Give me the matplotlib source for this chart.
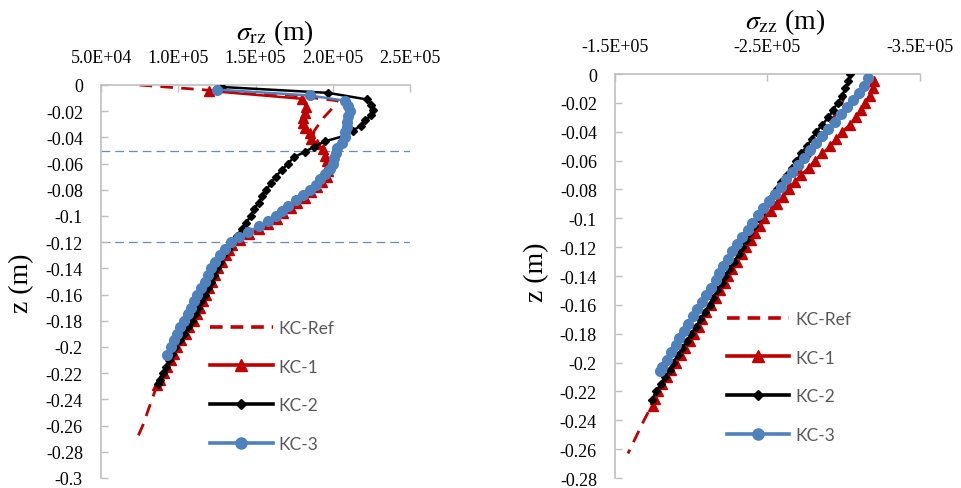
import matplotlib
matplotlib.use("Agg")
import matplotlib.pyplot as plt
from matplotlib.lines import Line2D

plt.rcParams['mathtext.fontset'] = 'stix'

SCALE = 1e5

# ---------------- Left panel: sigma_rz ----------------
z_ref_l = [0, -0.004, -0.008, -0.012, -0.016, -0.020, -0.025, -0.030, -0.035, -0.040,
           -0.045, -0.050, -0.055, -0.060, -0.070, -0.080, -0.090, -0.100, -0.110, -0.120,
           -0.130, -0.140, -0.150, -0.160, -0.170, -0.180, -0.190, -0.200, -0.210, -0.220,
           -0.230, -0.240, -0.250, -0.260, -0.268]
rz_ref = [0.75, 1.20, 1.75, 2.03, 2.01, 1.98, 1.94, 1.91, 1.88, 1.87,
          1.90, 1.94, 1.96, 1.97, 1.95, 1.88, 1.79, 1.67, 1.52, 1.37,
          1.31, 1.26, 1.22, 1.18, 1.14, 1.10, 1.05, 1.00, 0.95, 0.91,
          0.86, 0.83, 0.80, 0.77, 0.74]

z_kc1_l = [-0.0045, -0.0105, -0.017, -0.021, -0.025, -0.029, -0.033, -0.037, -0.041, -0.045,
           -0.049, -0.054, -0.058, -0.062, -0.066, -0.070, -0.074, -0.078, -0.082, -0.086,
           -0.090, -0.094, -0.098, -0.102, -0.106, -0.110, -0.114, -0.118, -0.122, -0.126,
           -0.130, -0.135, -0.140, -0.145, -0.150, -0.155, -0.160, -0.165, -0.170, -0.175,
           -0.180, -0.185, -0.190, -0.195, -0.200, -0.205, -0.210, -0.215, -0.220, -0.225,
           -0.229]
rz_kc1 = [1.20, 1.80, 1.83, 1.82, 1.81, 1.81, 1.82, 1.85, 1.86, 1.90,
          1.94, 1.95, 1.96, 1.97, 1.97, 1.96, 1.93, 1.90, 1.86, 1.82,
          1.77, 1.73, 1.68, 1.64, 1.58, 1.52, 1.46, 1.40, 1.35, 1.33,
          1.31, 1.28, 1.26, 1.24, 1.22, 1.20, 1.18, 1.16, 1.14, 1.12,
          1.10, 1.07, 1.05, 1.02, 0.99, 0.97, 0.95, 0.93, 0.91, 0.88,
          0.86]

z_kc2_l = [-0.0015, -0.006, -0.011, -0.015, -0.019, -0.023, -0.027, -0.031, -0.035, -0.039,
           -0.043, -0.047, -0.051, -0.055, -0.060, -0.065, -0.070, -0.075, -0.080, -0.085,
           -0.090, -0.095, -0.100, -0.105, -0.110, -0.115, -0.120, -0.125, -0.130, -0.135,
           -0.140, -0.145, -0.150, -0.155, -0.160, -0.165, -0.170, -0.175, -0.180, -0.185,
           -0.190, -0.195, -0.200, -0.205, -0.210, -0.215, -0.220, -0.225, -0.228]
rz_kc2 = [1.28, 1.97, 2.22, 2.25, 2.26, 2.25, 2.21, 2.18, 2.13, 2.07,
          1.95, 1.88, 1.82, 1.75, 1.71, 1.67, 1.63, 1.60, 1.57, 1.54,
          1.52, 1.49, 1.47, 1.44, 1.41, 1.38, 1.35, 1.32, 1.29, 1.27,
          1.25, 1.23, 1.21, 1.19, 1.17, 1.15, 1.13, 1.11, 1.09, 1.06,
          1.04, 1.01, 0.98, 0.96, 0.94, 0.92, 0.90, 0.88, 0.87]

z_kc3_l = [-0.0035, -0.008, -0.012, -0.016, -0.020, -0.024, -0.028, -0.032, -0.036, -0.040,
           -0.044, -0.048, -0.052, -0.056, -0.060, -0.064, -0.068, -0.072, -0.076, -0.080,
           -0.084, -0.088, -0.092, -0.096, -0.100, -0.104, -0.108, -0.112, -0.116, -0.120,
           -0.125, -0.130, -0.135, -0.140, -0.145, -0.150, -0.155, -0.160, -0.165, -0.170,
           -0.175, -0.180, -0.185, -0.190, -0.195, -0.200, -0.206]
rz_kc3 = [1.25, 1.85, 2.08, 2.10, 2.11, 2.10, 2.09, 2.09, 2.08, 2.08,
          2.06, 2.03, 2.02, 2.01, 2.00, 1.98, 1.95, 1.92, 1.89, 1.85,
          1.81, 1.76, 1.71, 1.67, 1.63, 1.58, 1.52, 1.45, 1.39, 1.34,
          1.30, 1.27, 1.24, 1.21, 1.19, 1.17, 1.15, 1.12, 1.10, 1.08,
          1.06, 1.04, 1.01, 0.99, 0.97, 0.95, 0.93]

layer_depths = [-0.05, -0.12]

# ---------------- Right panel: sigma_zz ----------------
z_ref_r = [0, -0.02, -0.04, -0.06, -0.08, -0.10, -0.12, -0.14, -0.16, -0.18,
           -0.20, -0.22, -0.24, -0.263]
zz_ref = [-3.05, -2.99, -2.88, -2.76, -2.62, -2.48, -2.36, -2.24, -2.13, -2.02,
          -1.90, -1.79, -1.69, -1.585]

z_kc1_r = [-0.005, -0.010, -0.015, -0.020, -0.025, -0.030, -0.035, -0.040, -0.045, -0.050,
           -0.055, -0.060, -0.065, -0.070, -0.075, -0.080, -0.085, -0.090, -0.095, -0.100,
           -0.105, -0.110, -0.115, -0.120, -0.125, -0.130, -0.135, -0.140, -0.145, -0.150,
           -0.155, -0.160, -0.165, -0.170, -0.175, -0.180, -0.185, -0.190, -0.195, -0.200,
           -0.205, -0.210, -0.215, -0.220, -0.225, -0.230]
zz_kc1 = [-3.20, -3.19, -3.17, -3.14, -3.11, -3.08, -3.04, -2.99, -2.95, -2.91,
          -2.86, -2.81, -2.77, -2.72, -2.68, -2.64, -2.60, -2.56, -2.52, -2.48,
          -2.45, -2.42, -2.39, -2.36, -2.33, -2.30, -2.27, -2.24, -2.22, -2.19,
          -2.16, -2.13, -2.10, -2.07, -2.05, -2.02, -1.99, -1.96, -1.93, -1.90,
          -1.87, -1.84, -1.81, -1.78, -1.76, -1.75]

z_kc2_r = [0, -0.005, -0.010, -0.015, -0.020, -0.025, -0.030, -0.035, -0.040, -0.045,
           -0.050, -0.055, -0.060, -0.065, -0.070, -0.075, -0.080, -0.085, -0.090, -0.095,
           -0.100, -0.105, -0.110, -0.115, -0.120, -0.125, -0.130, -0.135, -0.140, -0.145,
           -0.150, -0.155, -0.160, -0.165, -0.170, -0.175, -0.180, -0.185, -0.190, -0.195,
           -0.200, -0.205, -0.210, -0.215, -0.220, -0.226]
zz_kc2 = [-3.04, -3.03, -3.01, -2.99, -2.96, -2.93, -2.90, -2.86, -2.82, -2.79,
          -2.76, -2.72, -2.69, -2.66, -2.63, -2.59, -2.56, -2.53, -2.50, -2.47,
          -2.44, -2.41, -2.38, -2.36, -2.33, -2.31, -2.28, -2.25, -2.22, -2.20,
          -2.17, -2.14, -2.12, -2.09, -2.06, -2.03, -2.00, -1.97, -1.94, -1.91,
          -1.88, -1.86, -1.83, -1.80, -1.77, -1.74]

z_kc3_r = [-0.003, -0.008, -0.013, -0.018, -0.023, -0.028, -0.033, -0.038, -0.043, -0.048,
           -0.053, -0.058, -0.063, -0.068, -0.073, -0.078, -0.083, -0.088, -0.093, -0.098,
           -0.103, -0.108, -0.113, -0.118, -0.123, -0.128, -0.133, -0.138, -0.143, -0.148,
           -0.153, -0.158, -0.163, -0.168, -0.173, -0.178, -0.183, -0.188, -0.193, -0.198,
           -0.203, -0.206]
zz_kc3 = [-3.16, -3.13, -3.10, -3.06, -3.02, -2.98, -2.94, -2.90, -2.86, -2.82,
          -2.78, -2.74, -2.70, -2.66, -2.62, -2.59, -2.55, -2.51, -2.47, -2.44,
          -2.40, -2.37, -2.33, -2.30, -2.27, -2.24, -2.21, -2.18, -2.16, -2.13,
          -2.10, -2.07, -2.04, -2.01, -1.98, -1.95, -1.92, -1.90, -1.87, -1.84,
          -1.81, -1.795]

series_names = ["KC-Ref", "KC-1", "KC-2", "KC-3"]
x_ticks_l = [5.0e4, 1.0e5, 1.5e5, 2.0e5, 2.5e5]
x_ticks_r = [-1.5e5, -2.5e5, -3.5e5]

RED = "#C00000"
BLACK = "#000000"
BLUE = "#4F81BD"
GRAY = "#BFBFBF"
SERIF = "Liberation Serif"
LEGFONT = "Lato"

W, H = 962, 489
fig = plt.figure(figsize=(W / 100, H / 100), dpi=100)
ax1 = fig.add_axes([101 / W, 1 - 479 / H, (410 - 101) / W, (479 - 86) / H])
ax2 = fig.add_axes([615 / W, 1 - 479 / H, (920 - 615) / W, (479 - 75) / H])


def draw(ax, zr, vr, z1, v1, z2, v2, z3, v3):
    ax.plot([v * SCALE for v in vr], zr, color=RED, lw=2.0, dashes=(4.5, 3), zorder=2)
    ax.plot([v * SCALE for v in v1], z1, color=RED, lw=1.8, marker='^', ms=7.0, zorder=3)
    ax.plot([v * SCALE for v in v2], z2, color=BLACK, lw=1.8, marker='D', ms=4.5, zorder=4)
    ax.plot([v * SCALE for v in v3], z3, color=BLUE, lw=1.8, marker='o', ms=7.0, zorder=5)


draw(ax1, z_ref_l, rz_ref, z_kc1_l, rz_kc1, z_kc2_l, rz_kc2, z_kc3_l, rz_kc3)
draw(ax2, z_ref_r, zz_ref, z_kc1_r, zz_kc1, z_kc2_r, zz_kc2, z_kc3_r, zz_kc3)

for d in layer_depths:
    ax1.axhline(d, color="#6A8CB5", lw=0.9, dashes=(7, 4), zorder=1)

ax1.set_xlim(5.0e4, 2.5e5)
ax1.set_ylim(-0.3, 0)
ax2.set_xlim(-1.5e5, -3.5e5)
ax2.set_ylim(-0.28, 0)

ax1.set_xticks(x_ticks_l)
ax2.set_xticks(x_ticks_r)
ax1.set_yticks([-0.3 + 0.02 * i for i in range(16)])
ax2.set_yticks([-0.28 + 0.02 * i for i in range(15)])


def yfmt(v):
    v = round(v, 2)
    if abs(v) < 1e-9:
        return "0"
    return f"{v:g}"


for ax in (ax1, ax2):
    ax.set_xticklabels([f"{t:.1E}" for t in ax.get_xticks()])
    ax.set_yticklabels([yfmt(t) for t in ax.get_yticks()])
    ax.xaxis.tick_top()
    for s in ("right", "bottom"):
        ax.spines[s].set_visible(False)
    for s in ("left", "top"):
        ax.spines[s].set_color(GRAY)
        ax.spines[s].set_linewidth(1.2)
    ax.tick_params(axis='x', direction='in', length=5, width=1, color=GRAY, pad=14,
                   labelsize=13, labelfontfamily=SERIF)
    ax.tick_params(axis='y', direction='in', length=5, width=1, color=GRAY, pad=13,
                   labelsize=13, labelfontfamily=SERIF)
    ax.set_facecolor("none")

fig.text(275 / W, 1 - 33 / H, r"$\sigma_{\mathrm{rz}}$ (m)", ha='center', va='center',
         fontsize=20, family=SERIF)
fig.text(785 / W, 1 - 22 / H, r"$\sigma_{\mathrm{zz}}$ (m)", ha='center', va='center',
         fontsize=20, family=SERIF)
fig.text(22 / W, 1 - 283 / H, "z (m)", rotation=90, ha='center', va='center',
         fontsize=20, family=SERIF)
fig.text(537 / W, 1 - 272 / H, "z (m)", rotation=90, ha='center', va='center',
         fontsize=20, family=SERIF)

handles = [
    Line2D([], [], color=RED, lw=2.6, dashes=(3.5, 2.2)),
    Line2D([], [], color=RED, lw=2.6, marker='^', ms=8),
    Line2D([], [], color=BLACK, lw=2.6, marker='D', ms=5.5),
    Line2D([], [], color=BLUE, lw=2.6, marker='o', ms=8),
]

for x0, y0 in ((210, 321), (727, 312)):
    fig.legend(handles, series_names, loc='upper left',
               bbox_to_anchor=(x0 / W, 1 - y0 / H), bbox_transform=fig.transFigure,
               frameon=False, borderpad=0, borderaxespad=0, handlelength=3.6,
               handletextpad=0.35, labelspacing=1.3, labelcolor="#595959",
               prop={'family': LEGFONT, 'size': 12.5}, markerfirst=True)

fig.savefig("out.png", dpi=100)
